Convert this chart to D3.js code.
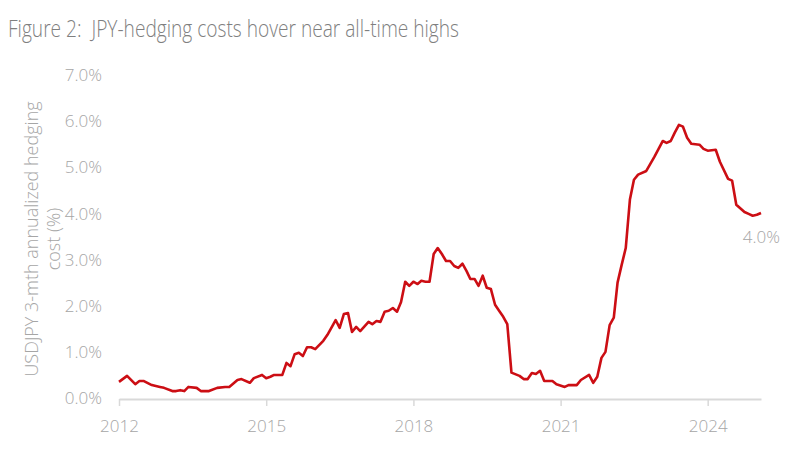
<!DOCTYPE html>
<html>
<head>
<meta charset="utf-8">
<script src="https://cdn.jsdelivr.net/npm/d3@7"></script>
<style>
  body { margin: 0; background: #fff; }
  svg { display: block; font-family: 'Open Sans', sans-serif; }
</style>
</head>
<body>
<div id="chart"></div>
<script>
// month of each reading and the hedging cost (%)
const months = [
  '2012-01', '2012-03', '2012-05', '2012-06', '2012-07', '2012-09', '2012-11', '2012-12',
  '2013-02', '2013-03', '2013-04', '2013-05', '2013-06', '2013-08', '2013-09', '2013-11',
  '2014-01', '2014-03', '2014-04', '2014-06', '2014-07', '2014-09', '2014-10', '2014-12',
  '2015-01', '2015-02', '2015-03', '2015-05', '2015-06', '2015-07', '2015-08', '2015-09', '2015-10', '2015-11', '2015-12',
  '2016-01', '2016-03', '2016-04', '2016-06', '2016-07', '2016-08', '2016-09', '2016-10', '2016-11', '2016-12',
  '2017-02', '2017-03', '2017-04', '2017-05', '2017-06', '2017-07', '2017-08', '2017-09', '2017-10', '2017-11', '2017-12',
  '2018-01', '2018-02', '2018-03', '2018-04', '2018-05', '2018-06', '2018-07', '2018-08', '2018-09', '2018-10', '2018-11', '2018-12',
  '2019-01', '2019-02', '2019-03', '2019-04', '2019-05', '2019-06', '2019-07', '2019-08', '2019-09', '2019-10', '2019-11', '2019-12',
  '2020-01', '2020-03', '2020-04', '2020-05', '2020-06', '2020-07', '2020-08', '2020-09', '2020-11', '2020-12',
  '2021-02', '2021-03', '2021-05', '2021-06', '2021-08', '2021-09', '2021-10', '2021-11', '2021-12',
  '2022-01', '2022-02', '2022-03', '2022-04', '2022-05', '2022-06', '2022-07', '2022-08', '2022-10', '2022-11', '2022-12',
  '2023-02', '2023-03', '2023-04', '2023-05', '2023-06', '2023-07', '2023-08', '2023-09', '2023-11', '2023-12',
  '2024-01', '2024-03', '2024-04', '2024-06', '2024-07', '2024-08', '2024-10', '2024-11', '2024-12',
  '2025-01', '2025-02'
];
const hedgeCost = [
  0.35, 0.48, 0.30, 0.37, 0.37, 0.28, 0.24, 0.22,
  0.15, 0.15, 0.17, 0.15, 0.24, 0.22, 0.15, 0.15,
  0.22, 0.24, 0.24, 0.39, 0.41, 0.33, 0.43, 0.50,
  0.43, 0.46, 0.50, 0.50, 0.76, 0.69, 0.95, 0.98, 0.91, 1.10, 1.10,
  1.06, 1.24, 1.37, 1.69, 1.52, 1.82, 1.84, 1.43, 1.54, 1.45,
  1.65, 1.60, 1.67, 1.65, 1.87, 1.89, 1.95, 1.87, 2.08, 2.52, 2.43,
  2.52, 2.47, 2.54, 2.52, 2.52, 3.12, 3.25, 3.12, 2.97, 2.97, 2.86, 2.82,
  2.91, 2.75, 2.58, 2.58, 2.43, 2.65, 2.39, 2.36, 2.02, 1.89, 1.76, 1.60,
  0.55, 0.48, 0.41, 0.41, 0.54, 0.52, 0.59, 0.37, 0.37, 0.30,
  0.24, 0.28, 0.28, 0.39, 0.50, 0.33, 0.46, 0.87, 1.00,
  1.58, 1.74, 2.50, 2.89, 3.25, 4.30, 4.73, 4.84, 4.92, 5.08, 5.23,
  5.57, 5.53, 5.57, 5.75, 5.92, 5.88, 5.64, 5.51, 5.49, 5.40,
  5.36, 5.38, 5.12, 4.75, 4.71, 4.19, 4.03, 3.99, 3.95,
  3.97, 4.01
];
const yTicks = [0, 1, 2, 3, 4, 5, 6, 7];
const xTickYears = [2012, 2015, 2018, 2021, 2024];
const lastLabel = '4.0%';

const W = 800, H = 450;
const parseMonth = d3.timeParse('%Y-%m');
const data = months.map((m, i) => ({ date: parseMonth(m), value: hedgeCost[i] }));

const svg = d3.select('#chart').append('svg')
  .attr('width', W)
  .attr('height', H);

const x = d3.scaleTime()
  .domain([new Date(2012, 0, 1), new Date(2025, 1, 1)])
  .range([119, 761]);

const y = d3.scaleLinear()
  .domain([0, 7])
  .range([398, 75]);

// title
svg.append('text')
  .attr('x', 8)
  .attr('y', 37)
  .attr('textLength', 451)
  .attr('lengthAdjust', 'spacingAndGlyphs')
  .style('white-space', 'pre')
  .style('font-size', '24px')
  .style('font-weight', 300)
  .style('fill', '#7f7f7f')
  .text('Figure 2:  JPY-hedging costs hover near all-time highs');

// y axis labels (no line)
svg.append('g')
  .selectAll('text')
  .data(yTicks)
  .join('text')
  .attr('x', 102)
  .attr('y', d => y(d))
  .attr('dy', '0.36em')
  .attr('text-anchor', 'end')
  .style('font-size', '17px')
  .style('font-weight', 300)
  .style('fill', '#a6a6a6')
  .text(d => d.toFixed(1) + '%');

// y axis title, two lines
const yTitle = svg.append('text')
  .attr('transform', 'translate(38,239) rotate(-90)')
  .attr('text-anchor', 'middle')
  .style('font-size', '18px')
  .style('font-weight', 300)
  .style('fill', '#a6a6a6');
yTitle.append('tspan').attr('x', 0).attr('dy', 0).text('USDJPY 3-mth annualized hedging');
yTitle.append('tspan').attr('x', 0).attr('dy', 22).text('cost (%)');

// x axis
const xAxis = svg.append('g')
  .attr('transform', 'translate(0,399)')
  .call(d3.axisBottom(x)
    .tickValues(xTickYears.map(yr => new Date(yr, 0, 1)))
    .tickFormat(d3.timeFormat('%Y'))
    .tickSize(7)
    .tickSizeOuter(0)
    .tickPadding(14));
xAxis.select('.domain').attr('stroke', '#d9d9d9').attr('stroke-width', 2);
xAxis.selectAll('.tick line').attr('stroke', '#d9d9d9').attr('stroke-width', 1.5);
xAxis.selectAll('.tick text')
  .style('font-family', "'Open Sans', sans-serif")
  .style('font-size', '17px')
  .style('font-weight', 300)
  .style('fill', '#a6a6a6');

// the series
svg.append('path')
  .datum(data)
  .attr('fill', 'none')
  .attr('stroke', '#cc0e14')
  .attr('stroke-width', 2.6)
  .attr('stroke-linejoin', 'round')
  .attr('d', d3.line().x(d => x(d.date)).y(d => y(d.value)));

// end value label
const last = data[data.length - 1];
svg.append('text')
  .attr('x', x(last.date) + 19)
  .attr('y', y(last.value) + 30)
  .attr('text-anchor', 'end')
  .style('font-size', '17px')
  .style('font-weight', 300)
  .style('fill', '#a6a6a6')
  .text(lastLabel);
</script>
</body>
</html>
